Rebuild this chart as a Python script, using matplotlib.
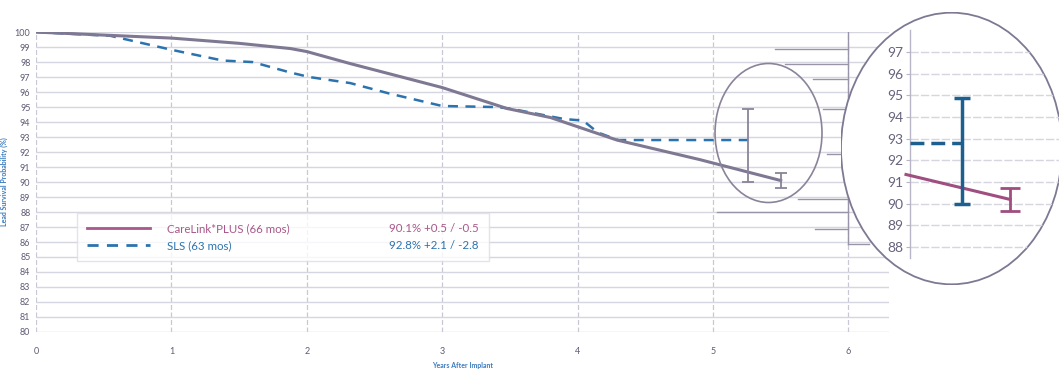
import matplotlib.pyplot as plt
from matplotlib.patches import Ellipse
from matplotlib.lines import Line2D

plt.rcParams['font.family'] = ['Lato', 'DejaVu Sans']

# survival curves (years, %)
years_carelink = [0, 0.5, 1.0, 1.5, 1.88, 2.0, 2.32, 3.0, 3.48, 3.8, 4.29, 4.9, 5.5]
surv_carelink = [100, 99.8, 99.6, 99.25, 98.9, 98.7, 97.9, 96.3, 94.9, 94.3, 92.8, 91.5, 90.1]

years_sls = [0, 0.55, 1.01, 1.38, 1.6, 1.88, 2.02, 2.32, 2.61, 3.0, 3.4, 3.5,
             3.9, 4.04, 4.15, 4.3, 4.51, 5.26]
surv_sls = [100, 99.75, 98.8, 98.1, 98.0, 97.3, 97.0, 96.6, 95.9, 95.07, 95.0, 94.9,
            94.2, 94.1, 93.3, 92.8, 92.8, 92.8]

# end points with confidence intervals
end_x = [5.26, 5.5]
end_y = [92.8, 90.1]
err_lo = [2.8, 0.5]
err_hi = [2.1, 0.5]

# zoom inset values
inset_line_x = [4.98, 5.5]
inset_line_y = [91.35, 90.2]
inset_pink_err = 0.55
inset_ticks = list(range(88, 98))

# leftover guide lines at the right edge (y level, start year)
guide_levels = [98.9, 97.9, 96.9, 94.9, 91.9, 88.9, 88.0, 86.9]
guide_starts = [5.46, 5.53, 5.74, 5.81, 5.84, 5.63, 5.03, 5.75]

legend_labels = ["CareLink*PLUS (66 mos)", "SLS (63 mos)"]
legend_stats = ["90.1% +0.5 / -0.5", "92.8% +2.1 / -2.8"]

gray = "#7f7893"
blue = "#2b73ae"
pink = "#a8588a"
grid_c = "#d6d6e0"
tick_c = "#5f5b75"

fig = plt.figure(figsize=(10.59, 3.73), dpi=100)
ax = fig.add_axes([0.034, 0.110, 0.8055, 0.804])

ax.set_xlim(0, 6.3)
ax.set_ylim(80, 100)
ax.set_yticks(range(80, 101))
ax.set_xticks(range(0, 7))
ax.tick_params(length=0, labelsize=6.5, colors=tick_c, pad=4)
ax.tick_params(axis='x', pad=11)
for s in ax.spines.values():
    s.set_visible(False)
ax.grid(axis='y', color=grid_c, lw=1.0)
ax.grid(axis='x', color="#c8c8d4", lw=0.9, ls=(0, (4, 2)))

ax.plot(years_sls, surv_sls, color=blue, lw=1.8, ls=(0, (4, 3)), zorder=3)
ax.plot(years_carelink, surv_carelink, color=gray, lw=2.2, zorder=4)
ax.errorbar(end_x, end_y, yerr=[err_lo, err_hi], fmt='none', ecolor="#8a8399",
            elinewidth=1.3, capsize=4, capthick=1.3, zorder=5)

ax.add_patch(Ellipse((5.41, 93.27), 0.79, 9.27, fill=False, ec="#8a8399", lw=1.2, zorder=6))

# guide lines left over from the original artwork
for lvl, st in zip(guide_levels, guide_starts):
    ax.plot([st, 6.0], [lvl, lvl], color="#9994a8", lw=1.0, zorder=2)
ax.plot([6.0, 6.0], [100, 85.9], color="#9994a8", lw=1.0, zorder=2)
ax.plot([6.0, 6.15], [85.9, 85.9], color="#9994a8", lw=1.0, zorder=2)

ax.set_xlabel("Years After Implant", fontsize=5, color="#3a7bbf", fontweight='bold', labelpad=4)
ax.set_ylabel("Lead Survival Probability (%)", fontsize=5, color="#3a7bbf",
              fontweight='bold', labelpad=5)

handles = [Line2D([], [], color=pink, lw=2),
           Line2D([], [], color=blue, lw=2, ls=(0, (4, 3))),
           Line2D([], [], alpha=0),
           Line2D([], [], alpha=0)]
leg = ax.legend(handles, legend_labels + legend_stats, ncol=2, loc='lower left',
                bbox_to_anchor=(0.041, 0.218), fontsize=8.3, handlelength=5.5,
                columnspacing=1.6, frameon=True, fancybox=False, borderpad=0.85,
                labelspacing=0.5, handletextpad=1.5)
leg.get_frame().set_edgecolor("#dddde6")
leg.get_frame().set_linewidth(1.0)
for t, c in zip(leg.get_texts(), [pink, blue, pink, blue]):
    t.set_color(c)

# zoom inset
ins = fig.add_axes([841 / 1059, 1 - 285 / 373, 221 / 1059, 273 / 373])
ins.set_xlim(4.655, 5.76)
ins.set_ylim(86.25, 98.85)
ins.patch.set_visible(False)
oval = Ellipse((0.5, 0.5), 1.0, 0.995, transform=ins.transAxes, fc='white',
               ec="#7e7893", lw=1.3, zorder=0)
ins.add_patch(oval)
for s in ['top', 'right', 'bottom']:
    ins.spines[s].set_visible(False)
ins.spines['left'].set_position(('data', 5.0))
ins.spines['left'].set_bounds(87.5, 98.0)
ins.spines['left'].set_color("#b8b5c6")
ins.spines['left'].set_linewidth(1.0)
ins.set_xticks([])
ins.set_yticks(inset_ticks)
ins.tick_params(axis='y', length=3, color="#b8b5c6", labelsize=10, labelcolor="#67637c", pad=2)
for lvl in inset_ticks:
    gl, = ins.plot([5.0, 5.76], [lvl, lvl], color="#d6d6e0", lw=1.0, ls=(0, (6, 1.5)), zorder=1)
    gl.set_clip_path(oval)

ins.plot([5.0, end_x[0]], [end_y[0], end_y[0]], color="#1d5f8f", lw=2.5, ls=(0, (4, 2)), zorder=3)
ins.errorbar([end_x[0]], [end_y[0]], yerr=[[err_lo[0]], [err_hi[0]]], fmt='none',
             ecolor="#1d5f8f", elinewidth=2.5, capsize=6, capthick=2.5, zorder=4)
ins.plot(inset_line_x, inset_line_y, color="#a04d80", lw=2.2, zorder=3)
ins.errorbar([inset_line_x[1]], [inset_line_y[1]], yerr=inset_pink_err, fmt='none',
             ecolor="#a04d80", elinewidth=2, capsize=7, capthick=2, zorder=4)

fig.savefig("out.png", dpi=100)
